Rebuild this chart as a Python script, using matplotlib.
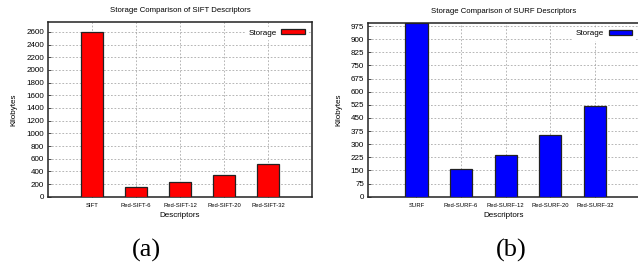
import numpy as np
import matplotlib.pyplot as plt

plt.rcParams['font.family'] = ['Liberation Sans', 'DejaVu Sans']

sift_labels = ['SIFT', 'Red-SIFT-6', 'Red-SIFT-12', 'Red-SIFT-20', 'Red-SIFT-32']
sift_kb = [2600, 150, 235, 345, 515]
surf_labels = ['SURF', 'Red-SURF-6', 'Red-SURF-12', 'Red-SURF-20', 'Red-SURF-32']
surf_kb = [990, 156, 238, 350, 518]

W, H = 638, 265
fig = plt.figure(figsize=(W / 100, H / 100), dpi=100)


def px_axes(x0, x1, y0, y1):
    # pixel box (top-left origin) -> figure fraction
    return fig.add_axes([x0 / W, 1 - y1 / H, (x1 - x0) / W, (y1 - y0) / H])


def draw_panel(ax, labels, values, color, yticks, ylim, xlim, title):
    x = np.arange(len(values))
    ax.set_axisbelow(True)
    ax.bar(x, values, width=0.5, color=color, edgecolor='#222222', linewidth=0.9,
           label='Storage', zorder=3)
    ax.set_xlim(*xlim)
    ax.set_ylim(*ylim)
    ax.set_xticks(x)
    ax.set_xticklabels(labels, fontsize=4.2)
    ax.set_yticks(yticks)
    ax.set_yticklabels([str(v) for v in yticks], fontsize=5.8)
    ax.tick_params(axis='both', direction='in', length=2.5, width=0.6, color='#333333')
    ax.tick_params(axis='x', pad=4.5)
    ax.tick_params(axis='y', pad=3)
    ax.grid(True, color='#9a9a9a', linestyle=(0, (2.5, 2.5)), linewidth=0.5)
    for s in ax.spines.values():
        s.set_linewidth(1.1)
        s.set_color('#222222')
    ax.set_xlabel('Descriptors', fontsize=5.8, labelpad=3)
    ax.set_ylabel('Kilobytes', fontsize=5.8, labelpad=6)
    ax.set_title(title, fontsize=5.6, pad=7)
    leg = ax.legend(loc='upper right', fontsize=5.8, markerfirst=False,
                    handlelength=2.9, handleheight=0.6, handletextpad=0.6,
                    borderpad=0.3, borderaxespad=0.6, fancybox=False,
                    framealpha=1, edgecolor='white', facecolor='white')
    leg.set_zorder(5)


ax1 = px_axes(48, 312, 22, 196.7)
draw_panel(ax1, sift_labels, sift_kb, '#ff0000', list(range(0, 2601, 200)),
           (0, 2757), (-1, 5), 'Storage Comparison of SIFT Descriptors')

ax2 = px_axes(368.3, 639.5, 22.7, 196.7)
draw_panel(ax2, surf_labels, surf_kb, '#0000ff', list(range(0, 976, 75)),
           (0, 994), (-1.08, 5), 'Storage Comparison of SURF Descriptors')

fig.text(146 / W, 1 - 250.5 / H, '(a)', fontsize=19, family='Liberation Serif',
         ha='center', va='center')
fig.text(511 / W, 1 - 250.5 / H, '(b)', fontsize=19, family='Liberation Serif',
         ha='center', va='center')

fig.savefig('out.png', dpi=100)
